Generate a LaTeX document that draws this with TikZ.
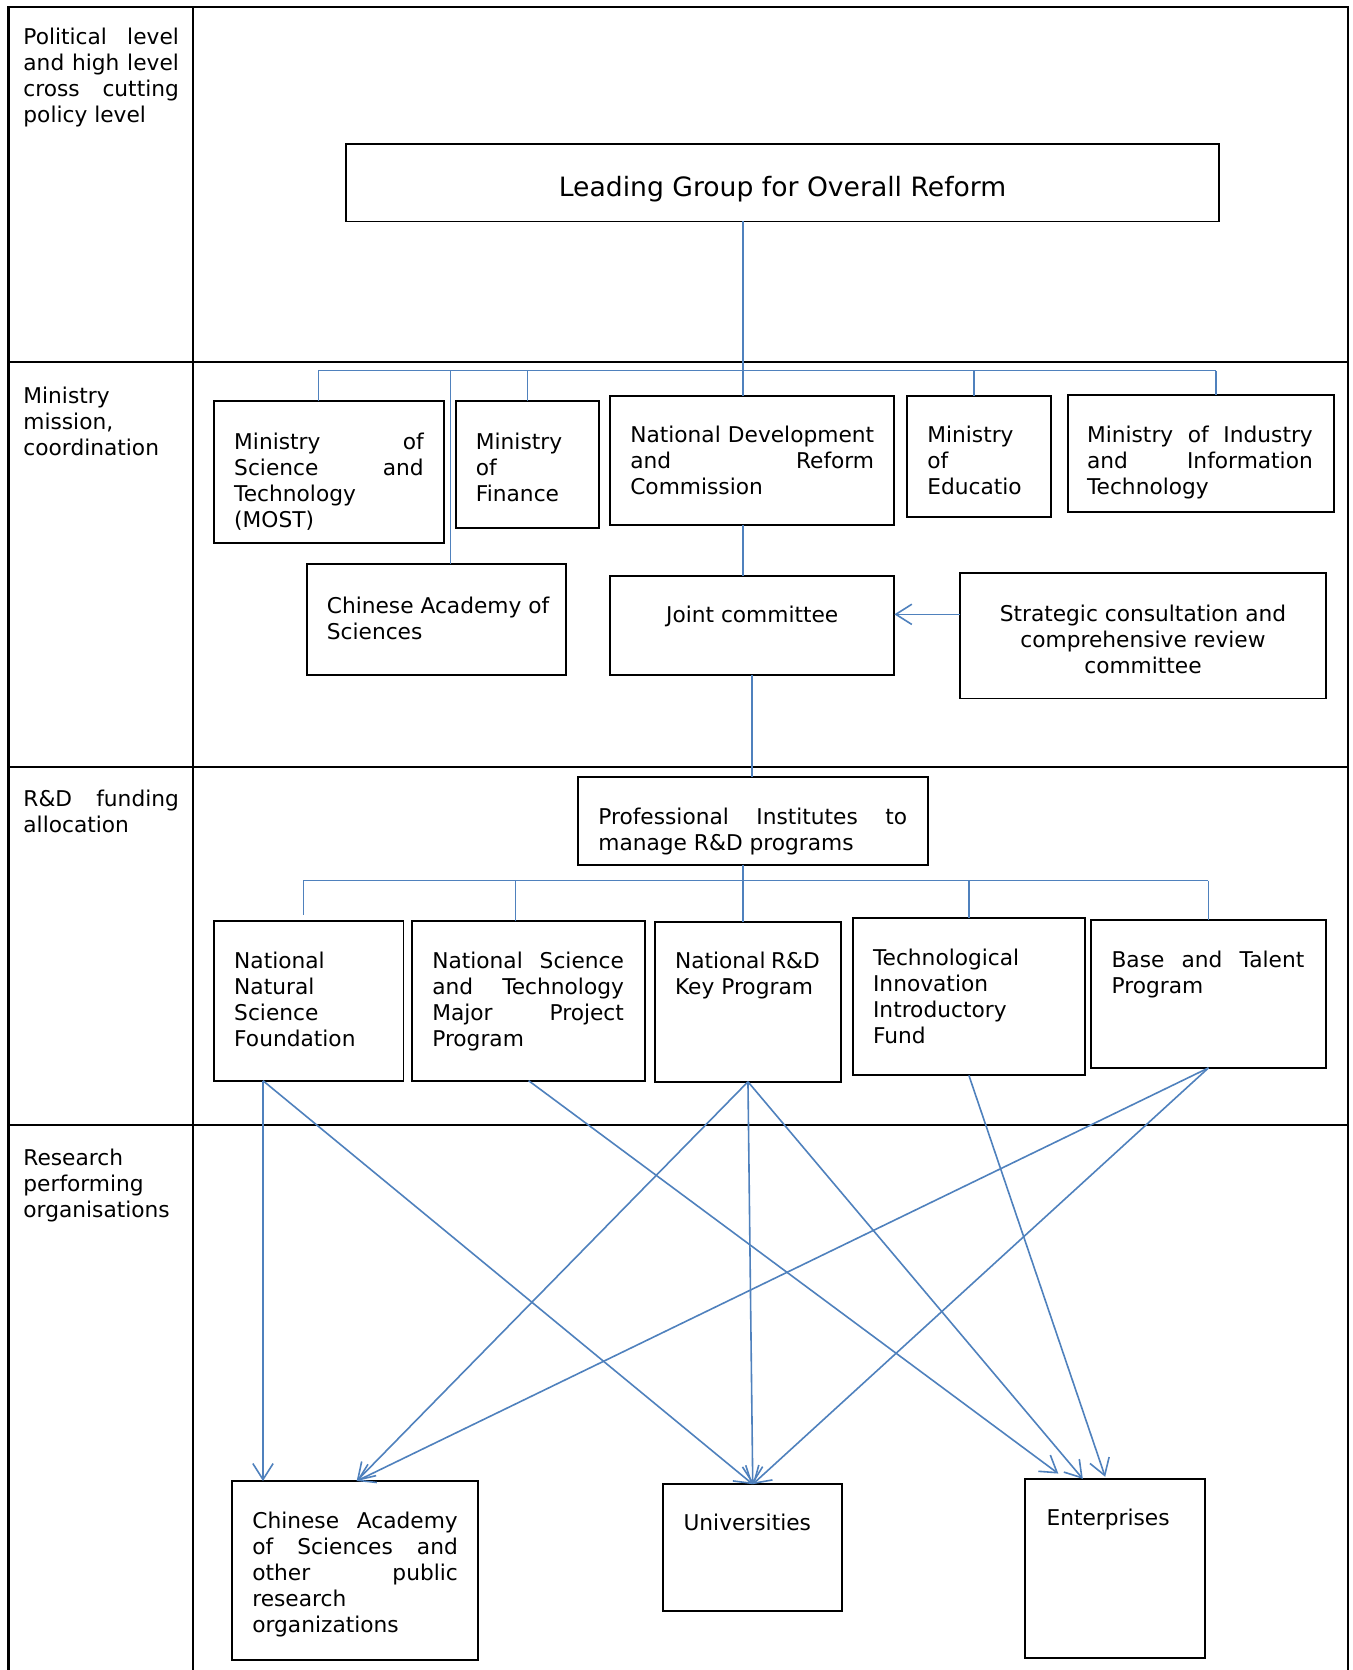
\documentclass[tikz,border=0pt]{standalone}
\usepackage{fontspec}
\setmainfont{DejaVu Sans}
\usetikzlibrary{arrows.meta,calc}
\definecolor{lnblue}{RGB}{79,129,189}
\begin{document}
\begin{tikzpicture}[x=1pt,y=-1pt,
  grid/.style={line width=2pt, draw=black},
  box/.style={draw=black, line width=1.8pt, rectangle, inner sep=0pt, outer sep=0pt, anchor=north west},
  txt/.style={anchor=base west, inner sep=0pt, outer sep=0pt, font=\fontsize{20.4pt}{24.4pt}\selectfont},
  ctxt/.style={txt, anchor=base},
  conn/.style={draw=lnblue, line width=1.5pt},
  arr/.style={conn, -{Straight Barb[length=15pt,width=19pt]}}]
\fill[white] (0,0) rectangle (1270.4,1568.5);
\useasboundingbox (0,0) rectangle (1270.4,1568.5);
% table grid
\draw[grid] (8,1568.5) -- (8,6.3) -- (1266,6.3) -- (1266,1568.5);
\draw[grid] (181.5,6.3) -- (181.5,1568.5);
\draw[grid] (8,340.4) -- (1266,340.4);
\draw[grid] (8,720) -- (1266,720);
\draw[grid] (8,1056.5) -- (1266,1056.5);
% row labels
\node[txt] (l1) at (22,41.6) {\vtop{\hbox to 146pt{Political\hfill level}\hbox to 146pt{and\hfill high\hfill level}\hbox to 146pt{cross\hfill cutting}\hbox{policy level}}};
\node[txt] (l2) at (22,378.6) {\vtop{\hbox{Ministry}\hbox{mission,}\hbox{coordination}}};
\node[txt] (l3) at (22,757.8) {\vtop{\hbox to 146pt{R\&D\hfill funding}\hbox{allocation}}};
\node[txt] (l4) at (22,1095) {\vtop{\hbox{Research}\hbox{performing}\hbox{organisations}}};
% boxes
\node[box, minimum width=820pt, minimum height=73pt] (lg) at (325,135) {};
\node[box, minimum width=216pt, minimum height=133pt] (most) at (201,377) {};
\node[box, minimum width=135pt, minimum height=119pt] (mof) at (428,377) {};
\node[box, minimum width=267pt, minimum height=121pt] (ndrc) at (573,372) {};
\node[box, minimum width=135pt, minimum height=114pt] (moe) at (852,372) {};
\node[box, minimum width=250pt, minimum height=110pt] (miit) at (1003,371) {};
\node[box, minimum width=244pt, minimum height=104pt] (cas) at (288,530) {};
\node[box, minimum width=267pt, minimum height=93pt] (jc) at (573,541) {};
\node[box, minimum width=343pt, minimum height=118pt] (scr) at (902,538) {};
\node[box, minimum width=329pt, minimum height=82pt] (pi) at (543,730) {};
\node[box, minimum width=178pt, minimum height=150pt] (nnsf) at (201,865) {};
\node[box, minimum width=219pt, minimum height=150pt] (nstm) at (387,865) {};
\node[box, minimum width=175pt, minimum height=150pt] (nrdk) at (615,866) {};
\node[box, minimum width=218pt, minimum height=148pt] (tiif) at (801,862) {};
\node[box, minimum width=220pt, minimum height=139pt] (btp) at (1025,864) {};
\node[box, minimum width=231pt, minimum height=168pt] (casb) at (218,1391) {};
\node[box, minimum width=168pt, minimum height=119pt] (univ) at (623,1394) {};
\node[box, minimum width=169pt, minimum height=168pt] (ent) at (963,1389) {};
% box texts
\node[ctxt, font=\fontsize{25pt}{30pt}\selectfont] (lg-t) at (735,184.6) {Leading Group for Overall Reform};
\node[txt] (most-t) at (220,422) {\vtop{\hbox to 178pt{Ministry\hfill of}\hbox to 178pt{Science\hfill and}\hbox{Technology}\hbox{(MOST)}}};
\node[txt] (mof-t) at (447,422) {\vtop{\hbox{Ministry}\hbox{of}\hbox{Finance}}};
\node[txt] (ndrc-t) at (592,416) {\vtop{\hbox to 229pt{National\hfill Development}\hbox to 229pt{and\hfill Reform}\hbox{Commission}}};
\node[txt] (moe-t) at (871,416) {\vtop{\hbox{Ministry}\hbox{of}\hbox{Educatio}}};
\node[txt] (miit-t) at (1021,415.5) {\vtop{\hbox to 212pt{Ministry\hfill of\hfill Industry}\hbox to 212pt{and\hfill Information}\hbox{Technology}}};
\node[txt] (cas-t) at (307,576) {\vtop{\hbox{Chinese Academy of}\hbox{Sciences}}};
\node[ctxt] (jc-t) at (706.5,585) {Joint committee};
\node[ctxt] (scr-t) at (1073.5,584) {\vtop{\hbox to 320pt{\hfil Strategic consultation and\hfil}\hbox to 320pt{\hfil comprehensive review\hfil}\hbox to 320pt{\hfil committee\hfil}}};
\node[txt] (pi-t) at (562,774.4) {\vtop{\hbox to 290pt{Professional\hfill Institutes\hfill to}\hbox{manage R\&D programs}}};
\node[txt] (nnsf-t) at (220,909.5) {\vtop{\hbox{National}\hbox{Natural}\hbox{Science}\hbox{Foundation}}};
\node[txt] (nstm-t) at (406,909.5) {\vtop{\hbox to 180pt{National\hfill Science}\hbox to 180pt{and\hfill Technology}\hbox to 180pt{Major\hfill Project}\hbox{Program}}};
\node[txt] (nrdk-t) at (634,910) {\vtop{\hbox to 136pt{National\hfill R\&D}\hbox{Key Program}}};
\node[txt] (tiif-t) at (820,906.4) {\vtop{\hbox{Technological}\hbox{Innovation}\hbox{Introductory}\hbox{Fund}}};
\node[txt] (btp-t) at (1044,908.9) {\vtop{\hbox to 181pt{Base\hfill and\hfill Talent}\hbox{Program}}};
\node[txt] (casb-t) at (237,1435.4) {\vtop{\hbox to 193pt{Chinese\hfill Academy}\hbox to 193pt{of\hfill Sciences\hfill and}\hbox to 193pt{other\hfill public}\hbox{research}\hbox{organizations}}};
\node[txt] (univ-t) at (642,1437.6) {Universities};
\node[txt] (ent-t) at (983,1433) {Enterprises};
% connectors, upper part
\coordinate (spine) at ([xshift=-37pt]lg.south);
\coordinate (bus1L) at (299,348);
\coordinate (bus1R) at (1142,348);
\coordinate (bcas) at (423,348);
\coordinate (bmoe) at (915,348);
\draw[conn] (spine) -- (spine |- ndrc.north);
\draw[conn] (bus1L) -- (bus1R);
\draw[conn] (bus1L) -- (bus1L |- most.north);
\draw[conn] (bcas) -- (bcas |- cas.north);
\draw[conn] (mof.north |- bus1L) -- (mof.north);
\draw[conn] (bmoe) -- (bmoe |- moe.north);
\draw[conn] (bus1R) -- (bus1R |- miit.north);
\draw[conn] (spine |- ndrc.south) -- (spine |- jc.north);
\draw[arr] ([yshift=20pt]scr.west) -- ([yshift=20pt]scr.west -| jc.east);
\draw[conn] (jc.south) -- (jc.south |- pi.north);
% connectors, funding level
\coordinate (bus2L) at (285,827);
\coordinate (bus2R) at (1135,827);
\coordinate (bnstm) at (484,827);
\draw[conn] (spine |- pi.south) -- (spine |- nrdk.north);
\draw[conn] (bus2L) -- (bus2R);
\draw[conn] (bus2L) -- ($(bus2L |- nnsf.north)+(0,-6)$);
\draw[conn] (bnstm) -- (bnstm |- nstm.north);
\draw[conn] (tiif.north |- bus2L) -- (tiif.north);
\draw[conn] (bus2R) -- (bus2R |- btp.north);
% arrows to research performing organisations
\draw[arr] ([xshift=-43pt]nnsf.south) -- ([xshift=-86.5pt]casb.north);
\draw[arr] ([xshift=-43pt]nnsf.south) -- (univ.north);
\draw[arr] (nstm.south) -- ([xshift=-53.5pt,yshift=5pt]ent.north);
\draw[arr] (nrdk.south) -- ([xshift=1.5pt]casb.north);
\draw[arr] (nrdk.south) -- (univ.north);
\draw[arr] (nrdk.south) -- ([xshift=-30.5pt]ent.north);
\draw[arr] (tiif.south) -- ([xshift=-9.5pt,yshift=2pt]ent.north);
\draw[arr] (btp.south) -- ([xshift=1.5pt]casb.north);
\draw[arr] (btp.south) -- (univ.north);
\end{tikzpicture}
\end{document}
